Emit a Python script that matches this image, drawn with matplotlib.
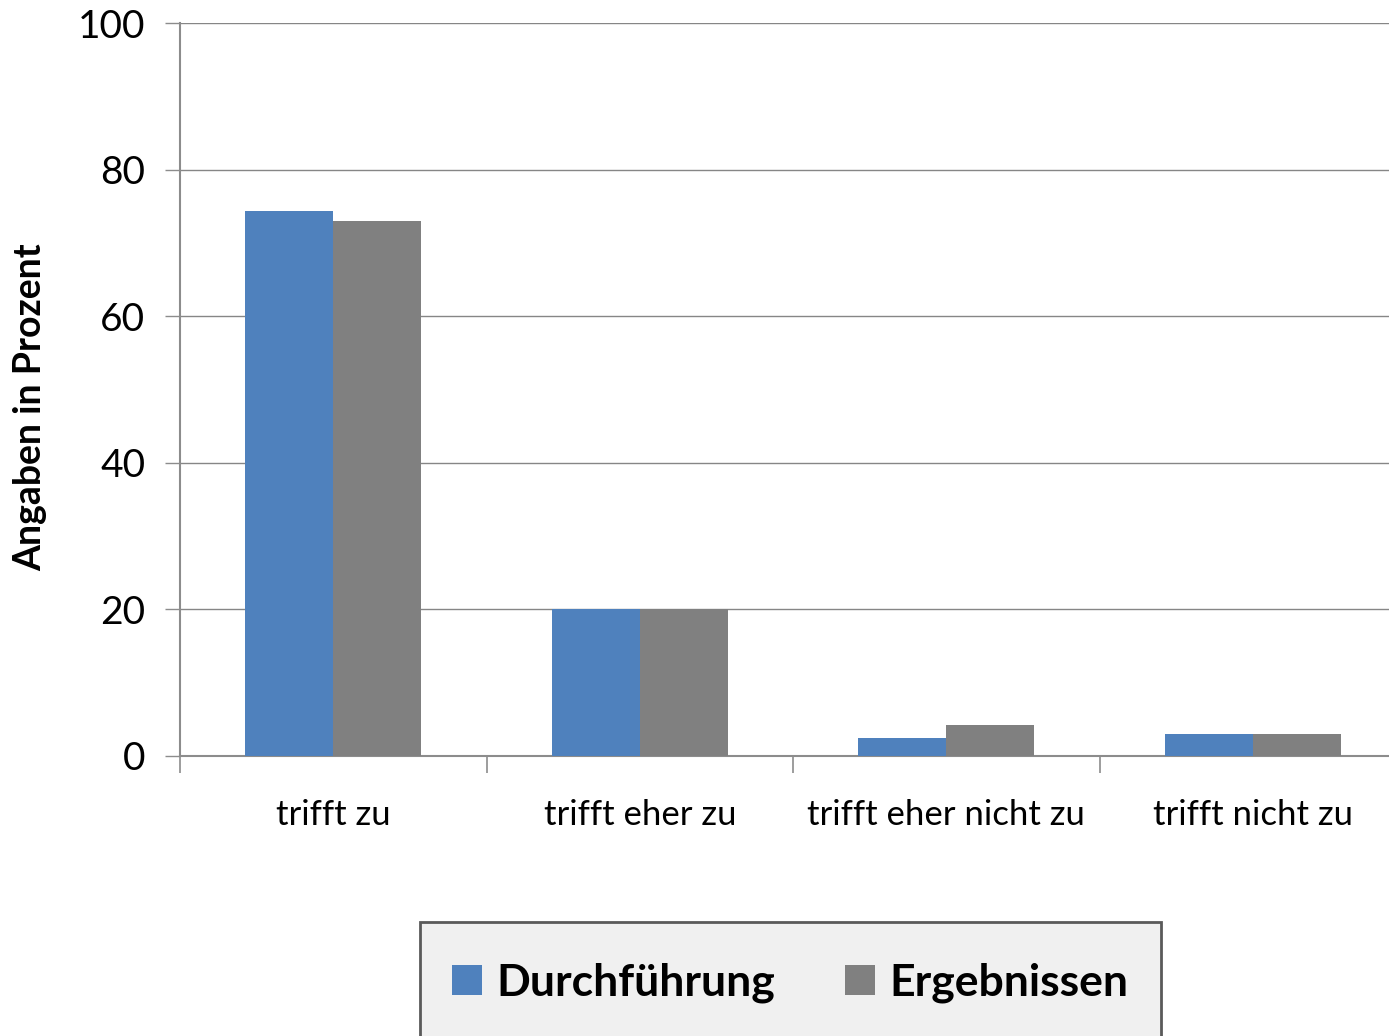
import numpy as np
import matplotlib.pyplot as plt
from matplotlib.patches import Rectangle

# Data
categories = ["trifft zu", "trifft eher zu", "trifft eher nicht zu", "trifft nicht zu"]
durchfuehrung = [74.3, 20.0, 2.5, 3.0]
ergebnisse = [73.0, 20.0, 4.2, 3.0]
series_names = ["Durchführung", "Ergebnissen"]
yticks = [0, 20, 40, 60, 80, 100]

plt.rcParams['font.family'] = ['Lato', 'DejaVu Sans']

fig = plt.figure(figsize=(13.89, 10.36), dpi=100)
# axes runs a bit past the right edge, like the original
ax = fig.add_axes([180/1389, 1 - 756/1036, 1226/1389, 733/1036])

x = np.arange(len(categories))
w = 0.287
ax.bar(x - w/2, durchfuehrung, w, color="#4F81BD", label=series_names[0], zorder=3)
ax.bar(x + w/2, ergebnisse, w, color="#808080", label=series_names[1], zorder=3)

ax.set_xlim(-0.5, 3.5)
ax.set_ylim(0, 100)
ax.set_yticks(yticks)
ax.set_yticklabels([str(v) for v in yticks], fontsize=28)
ax.yaxis.grid(True, color="#868686", linewidth=1.0, zorder=0)

# category labels at centres, tick marks between categories
ax.set_xticks(x)
ax.set_xticklabels(categories, fontsize=25)
ax.tick_params(axis='x', which='major', length=0, pad=31)
ax.set_xticks(np.arange(-0.5, 4.0, 1.0), minor=True)
ax.tick_params(axis='x', which='minor', length=12, width=1.2, color="#8c8c8c", direction='out')
ax.tick_params(axis='y', length=11, width=1.0, color="#8c8c8c", pad=14)

for s in ["top", "right"]:
    ax.spines[s].set_visible(False)
for s in ["left", "bottom"]:
    ax.spines[s].set_color("#8c8c8c")
    ax.spines[s].set_linewidth(1.5)

ax.set_ylabel("Angaben in Prozent", fontsize=27, fontweight='bold')
ax.yaxis.set_label_coords(-0.108, 0.476)

# legend box, open at the bottom edge of the image
fig.patches.append(Rectangle((420/1389, -0.05), 741/1389, (1036 - 922)/1036 + 0.05,
                             transform=fig.transFigure, facecolor="#F0F0F0",
                             edgecolor="#5a5a5a", linewidth=2, zorder=0))
leg = fig.legend(loc='center', bbox_to_anchor=(790/1389, 1 - 983/1036),
                 ncol=2, frameon=False,
                 prop={'size': 32, 'weight': 'bold'},
                 handlelength=0.68, handleheight=0.68, handletextpad=0.32,
                 columnspacing=1.58, borderpad=0.2)

fig.savefig("out.png", dpi=100)
